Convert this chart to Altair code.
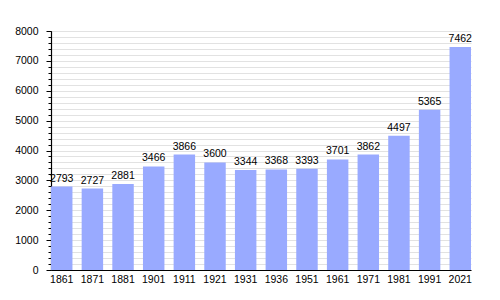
import altair as alt
import pandas as pd

years = ["1861", "1871", "1881", "1901", "1911", "1921", "1931", "1936",
         "1951", "1961", "1971", "1981", "1991", "2021"]
population = [2793, 2727, 2881, 3466, 3866, 3600, 3344, 3368,
              3393, 3701, 3862, 4497, 5365, 7462]
minor_ticks = list(range(0, 8001, 200))
major_ticks = list(range(0, 8001, 1000))

df = pd.DataFrame({"year": years, "pop": population})

xscale = alt.Scale(paddingInner=0.3, paddingOuter=0.0)
yscale = alt.Scale(domain=[0, 8000], nice=False)

x = alt.X("year:N", sort=None, title=None, scale=xscale,
          axis=alt.Axis(labelAngle=0, ticks=False, domainColor="black",
                        labelColor="black", labelFont="Liberation Sans",
                        labelFontSize=10.5, labelPadding=4))

minor = alt.Chart(df).mark_bar(opacity=0).encode(
    x=x,
    y=alt.Y("pop:Q", title=None, scale=yscale,
            axis=alt.Axis(orient="left", values=minor_ticks, labels=False,
                          gridColor="#e2e2e2", tickSize=3, tickColor="black",
                          domain=False)))

bars = alt.Chart(df).mark_bar(color="#99aaff").encode(
    x=x,
    y=alt.Y("pop:Q", title=None, scale=yscale,
            axis=alt.Axis(orient="left", values=major_ticks, format="d",
                          gridColor="#a8a8a8", tickSize=5, tickColor="black",
                          domainColor="black", labelColor="black",
                          labelFont="Liberation Sans", labelFontSize=10.5,
                          labelPadding=8)))

labels = alt.Chart(df).mark_text(baseline="bottom", dy=-3, font="Liberation Sans",
                                 fontSize=10.5, color="black").encode(
    x=x,
    y=alt.Y("pop:Q", scale=yscale, axis=None),
    text="pop:Q")

chart = alt.layer(minor, bars, labels).resolve_axis(y="independent").properties(
    width=420, height=239,
    autosize=alt.AutoSizeParams(type="none"),
    padding={"left": 51, "top": 31, "right": 29, "bottom": 30},
).configure_view(stroke=None).configure_axis(domainWidth=1.2)

chart.save("out.html", embed_options={"renderer": "svg", "actions": False})
